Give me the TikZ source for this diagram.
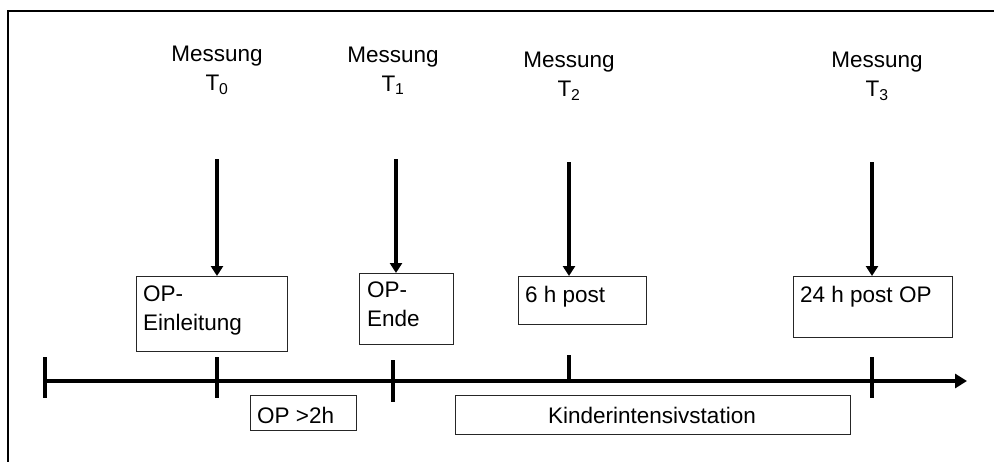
\documentclass[tikz,border=0pt]{standalone}
\usepackage{fontspec}
\setmainfont{Liberation Sans}
\usetikzlibrary{arrows.meta}
\begin{document}
\begin{tikzpicture}[x=1pt,y=-1pt,
  lbl/.style={inner sep=0pt, font=\fontsize{22.5pt}{29pt}\selectfont},
  mess/.style={lbl, align=center, anchor=north},
  boxtxt/.style={lbl, align=left, anchor=north west},
  box/.style={draw=black!85, line width=1.1pt, rectangle, inner sep=0pt, anchor=north west},
  down/.style={line width=3.6pt, -{Triangle[width=12pt,length=10pt]}},
  tick/.style={line width=3.6pt},
  axis/.style={line width=4.4pt, -{Triangle[width=14pt,length=12pt]}},
  frame/.style={line width=1.8pt}
]
\fill[white] (0,0) rectangle (994,461);
\useasboundingbox (0,0) rectangle (994,461);
% outer frame (left and top edges visible)
\coordinate (fbl) at (8,462);
\coordinate (ftl) at (8,11);
\coordinate (ftr) at (995,11);
\draw[frame] (fbl) -- (ftl) -- (ftr);

% Messung labels
\node[mess] (m0) at (217,45.5) {Messung\\T\textsubscript{0}};
\node[mess] (m1) at (393,46.5) {Messung\\T\textsubscript{1}};
\node[mess] (m2) at (569,51.5) {Messung\\T\textsubscript{2}};
\node[mess] (m3) at (877,51.5) {Messung\\T\textsubscript{3}};

% boxes above the time line
\node[box, minimum width=151pt, minimum height=75pt] (b0) at (136,276) {};
\node[box, minimum width=94pt, minimum height=71pt] (b1) at (359,273) {};
\node[box, minimum width=128pt, minimum height=48pt] (b2) at (518,276) {};
\node[box, minimum width=159pt, minimum height=61pt] (b3) at (793,276) {};
\node[boxtxt] (t0) at (143,286) {OP-\\Einleitung};
\node[boxtxt] (t1) at (367,282) {OP-\\Ende};
\node[boxtxt] (t2) at (525,286) {6 h post};
\node[boxtxt] (t3) at (800,286) {24 h post OP};

% arrows down
\coordinate (a0) at (217,159);
\coordinate (a1) at (396,159);
\coordinate (a2) at (569,162);
\coordinate (a3) at (872,162);
\draw[down] (a0) -- (a0 |- b0.north);
\draw[down] (a1) -- (a1 |- b1.north);
\draw[down] (a2) -- (a2 |- b2.north);
\draw[down] (a3) -- (a3 |- b3.north);

% time line
\coordinate (ts) at (45,381);
\coordinate (te) at (967,381);
\draw[axis] (ts) -- (te);
\coordinate (k0a) at (45,357);  \coordinate (k0b) at (45,398);
\coordinate (k1a) at (217,357); \coordinate (k1b) at (217,398);
\coordinate (k2a) at (393,360); \coordinate (k2b) at (393,402);
\coordinate (k3a) at (569,355); \coordinate (k3b) at (569,381);
\coordinate (k4a) at (872,357); \coordinate (k4b) at (872,398);
\draw[tick] (k0a) -- (k0b);
\draw[tick] (k1a) -- (k1b);
\draw[tick] (k2a) -- (k2b);
\draw[tick] (k3a) -- (k3b);
\draw[tick] (k4a) -- (k4b);

% boxes below the time line
\node[box, minimum width=106pt, minimum height=35pt] (b4) at (250,395) {};
\node[boxtxt] (t4) at (257,406.5) {OP >2h};
\node[box, minimum width=395pt, minimum height=39pt] (b5) at (455,395) {};
\node[lbl, anchor=base] (t5) at (652,423) {Kinderintensivstation};
\end{tikzpicture}
\end{document}
